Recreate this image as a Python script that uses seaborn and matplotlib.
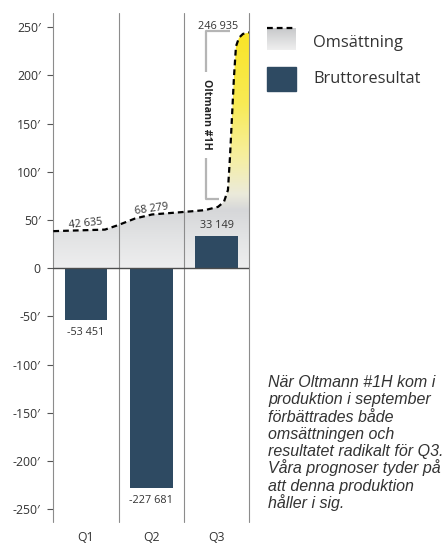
import numpy as np
import pandas as pd
import seaborn as sns
import matplotlib.pyplot as plt
from matplotlib.patches import Polygon
from matplotlib.colors import to_rgb

# ---------------- data ----------------
quarters = ["Q1", "Q2", "Q3"]
gross_profit = [-53451, -227681, 33149]
gross_labels = ["-53 451", "-227 681", "33 149"]
revenue_labels = ["42 635", "68 279", "246 935"]
# revenue curve (x in quarter units, y in thousands)
curve_x = [-0.5, 0.291, 0.49, 0.751, 1.011, 1.516, 1.822, 2.021, 2.112,
           2.173, 2.204, 2.235, 2.265, 2.296, 2.342, 2.403, 2.5]
curve_y = [38.4, 40.0, 44.6, 51.5, 55.7, 58.4, 60.2, 63.6, 68.8,
           81, 115, 157, 198, 230, 239, 243, 244.5]
yticks = [250, 200, 150, 100, 50, 0, -50, -100, -150, -200, -250]
ytick_labels = ["250′", "200′", "150′", "100′", "50′", "0", "-50′", "-100′",
                "-150′", "-200′", "-250′"]
note_lines = ["När Oltmann #1H kom i", "produktion i september",
              "förbättrades både", "omsättningen och",
              "resultatet radikalt för Q3.", "Våra prognoser tyder på",
              "att denna produktion", "håller i sig."]

# ---------------- style ----------------
sns.set_style("white")
plt.rcParams['font.family'] = ['Open Sans', 'DejaVu Sans']
BAR = "#2e4a62"
GRID = "#8c8c8c"
TXT = "#333333"

fig = plt.figure(figsize=(4.46, 5.45), dpi=100)
L, R = 53.3 / 446, 249.3 / 446
T, B = 12.7 / 545, 521.7 / 545
ax = fig.add_axes([L, 1 - B, R - L, B - T])

df = pd.DataFrame({"quarter": quarters, "value": np.array(gross_profit) / 1000})
sns.barplot(data=df, x="quarter", y="value", color=BAR, width=0.65,
            saturation=1, ax=ax, zorder=3, linewidth=0, edgecolor="none")

# gradient fill under revenue curve
stops = [(0, "#eeeeef"), (30, "#e3e4e5"), (60, "#d6d7d9"), (76, "#ebeadb"),
         (115, "#f6efa0"), (170, "#f8ea55"), (250, "#fae422")]
vals = np.linspace(0, 250, 600)
sv = [s[0] for s in stops]
cols = np.array([to_rgb(s[1]) for s in stops])
grad = np.stack([np.interp(vals, sv, cols[:, i]) for i in range(3)], axis=-1)
img = ax.imshow(grad[:, None, :], extent=[-0.5, 2.5, 0, 250], origin="lower",
                aspect="auto", zorder=1, interpolation="bilinear")
verts = [(curve_x[0], 0)] + list(zip(curve_x, curve_y)) + [(curve_x[-1], 0)]
poly = Polygon(verts, closed=True, facecolor="none", edgecolor="none")
ax.add_patch(poly)
img.set_clip_path(poly)

sns.lineplot(x=curve_x, y=curve_y, ax=ax, color="black", lw=1.6,
             linestyle=(0, (2.6, 1.8)), zorder=4, sort=False)

# dividers and zero line
for xv in [-0.5, 0.5, 1.5, 2.5]:
    ax.axvline(xv, color=GRID, lw=0.8, zorder=2, clip_on=False)
ax.axhline(0, color="#4d4d4d", lw=1.0, zorder=5)

ax.set_xlim(-0.5, 2.5)
ax.set_ylim(-263, 265)
for s in ax.spines.values():
    s.set_visible(False)
ax.set_yticks(yticks)
ax.set_yticklabels(ytick_labels)
ax.tick_params(axis="y", left=True, length=4, width=0.8, color="#555555",
               labelsize=8.8, labelcolor=TXT, pad=5)
ax.tick_params(axis="x", bottom=False, labelsize=8.8, labelcolor=TXT, pad=3)
ax.set_xlabel("")
ax.set_ylabel("")

# bar labels
for i, (v, lab) in enumerate(zip(gross_profit, gross_labels)):
    off = -9 if v < 0 else 8
    ax.annotate(lab, (i, v / 1000), xytext=(0, off), textcoords="offset points",
                ha="center", va="center", fontsize=7.8, color=TXT, zorder=6)

# revenue labels
ax.text(0, 46, revenue_labels[0], ha="center", va="center", fontsize=7.8,
        color=TXT, rotation=6, zorder=6)
ax.text(1.0, 61.5, revenue_labels[1], ha="center", va="center", fontsize=7.8,
        color=TXT, rotation=8, zorder=6)
ax.text(2.02, 250.5, revenue_labels[2], ha="center", va="center", fontsize=7.8,
        color=TXT, zorder=6)

# Oltmann bracket
bx = 1.842
ax.plot([bx, bx, 2.2], [204, 245.5, 245.5], color="#b5b5b5", lw=1.6, zorder=4,
        solid_capstyle="butt")
ax.plot([bx, bx, 2.03], [114, 71.5, 71.5], color="#b5b5b5", lw=1.6, zorder=4,
        solid_capstyle="butt")
ax.text(bx, 160, "Oltmann #1H", rotation=-90, ha="center", va="center",
        fontsize=7.6, fontweight="bold", color="#222222", zorder=6)

# legend
lax = fig.add_axes([267 / 446, 1 - 50 / 545, 29 / 446, 22.5 / 545])
lg = np.linspace(0, 1, 50)
lcol = np.stack([np.interp(lg, [0, 1], [to_rgb("#efefef")[i], to_rgb("#c6c7c9")[i]])
                 for i in range(3)], axis=-1)
lax.imshow(lcol[:, None, :], extent=[0, 1, 0, 1], origin="lower", aspect="auto")
lax.plot([0, 1], [0.97, 0.97], color="black", lw=1.6, linestyle=(0, (2.6, 1.8)),
         clip_on=False)
lax.set_xlim(0, 1)
lax.set_ylim(0, 1)
lax.axis("off")
fig.add_artist(plt.Rectangle((267 / 446, 1 - 90.7 / 545), 29 / 446, 24 / 545,
                             transform=fig.transFigure, color=BAR))
fig.text(313 / 446, 1 - 43 / 545, "Omsättning", fontsize=11.8, color=TXT,
         va="center", ha="left")
fig.text(313 / 446, 1 - 79 / 545, "Bruttoresultat", fontsize=11.8, color=TXT,
         va="center", ha="left")

for k, line in enumerate(note_lines):
    fig.text(268 / 446, 1 - (387 + 17.3 * k) / 545, line, fontsize=11.5,
             style="italic", family=["Liberation Sans", "DejaVu Sans"],
             color=TXT, va="baseline", ha="left")

fig.savefig("out.png", dpi=100)
